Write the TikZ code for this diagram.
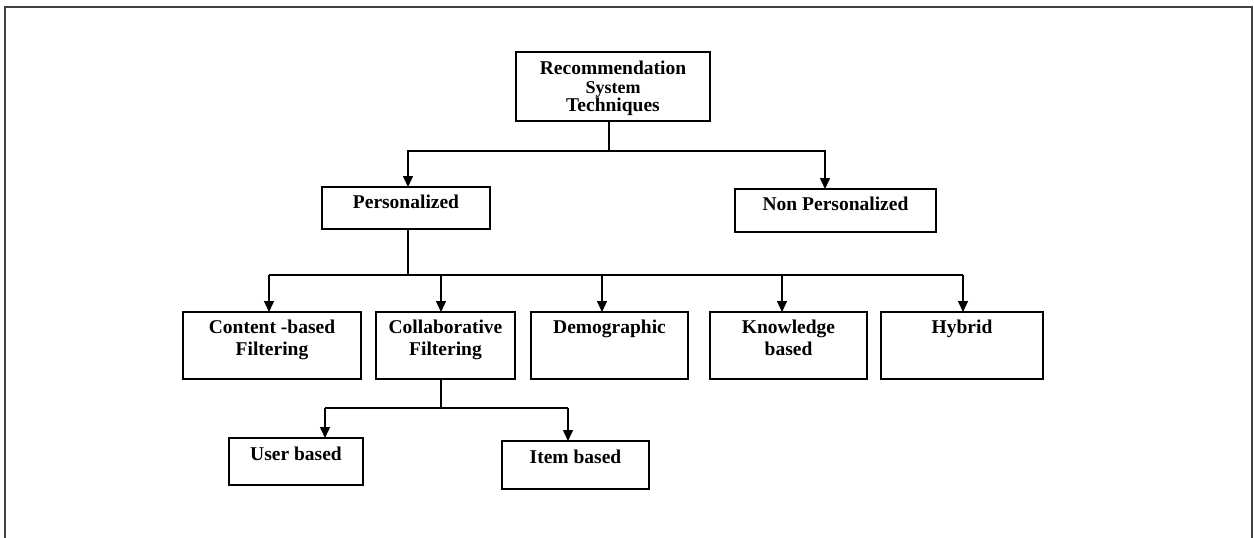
\documentclass[tikz,border=0pt]{standalone}
\usepackage{fontspec}
\setmainfont{Liberation Serif}
\usetikzlibrary{arrows.meta}
\begin{document}
\begin{tikzpicture}[x=1pt,y=-1pt,
  box/.style={draw=black, line width=1.6pt, rectangle, inner sep=0pt, outer sep=0pt},
  boxtext/.style={anchor=north, inner sep=0pt, align=center,
                  font=\bfseries\fontsize{19.5}{22}\selectfont},
  link/.style={draw=black, line width=1.5pt},
  bus/.style={draw=black, line width=2.3pt},
  arr/.style={link, -{Triangle[length=11pt,width=10pt]}},
  frameline/.style={draw=black!75, line width=2pt}
]
\useasboundingbox (0,0) rectangle (1254,538);

% outer frame, open at the bottom
\draw[frameline] (5,538) -- (5,7) -- (1252,7) -- (1252,538);

% boxes
\node[box, minimum width=194pt, minimum height=69pt] (root)    at (613,86.5)  {};
\node[box, minimum width=168pt, minimum height=42pt] (pers)    at (406,208)   {};
\node[box, minimum width=201pt, minimum height=43pt] (nonp)    at (835.5,210.5) {};
\node[box, minimum width=178pt, minimum height=67pt] (content) at (272,345.5)  {};
\node[box, minimum width=139pt, minimum height=67pt] (collab)  at (445.5,345.5) {};
\node[box, minimum width=157pt, minimum height=67pt] (demo)    at (609.5,345.5) {};
\node[box, minimum width=157pt, minimum height=67pt] (know)    at (788.5,345.5) {};
\node[box, minimum width=162pt, minimum height=67pt] (hybrid)  at (962,345.5)   {};
\node[box, minimum width=134pt, minimum height=47pt] (user)    at (296,461.5)   {};
\node[box, minimum width=147pt, minimum height=48pt] (item)    at (575.5,465)   {};

% texts, set near the top of each box
\node[boxtext, font=\bfseries\fontsize{19.5}{18.5}\selectfont] (t-root) at ([yshift=-9pt]root.north)
  {Recommendation\\\fontsize{18}{18.5}\selectfont System\\\fontsize{19.5}{18.5}\selectfont Techniques};
\node[boxtext] (t-pers)    at ([yshift=-8pt]pers.north)    {Personalized};
\node[boxtext] (t-nonp)    at ([yshift=-8pt]nonp.north)    {Non Personalized};
\node[boxtext] (t-content) at ([yshift=-8pt]content.north) {Content -based\\Filtering};
\node[boxtext] (t-collab)  at ([yshift=-8pt]collab.north)  {Collaborative\\Filtering};
\node[boxtext] (t-demo)    at ([yshift=-8pt]demo.north)    {Demographic};
\node[boxtext] (t-know)    at ([yshift=-8pt]know.north)    {Knowledge\\based};
\node[boxtext] (t-hybrid)  at ([yshift=-8pt]hybrid.north)  {Hybrid};
\node[boxtext] (t-user)    at ([yshift=-9pt]user.north)    {User based};
\node[boxtext] (t-item)    at ([yshift=-9pt]item.north)    {Item based};

% first level
\coordinate (j1) at (609,151);
\draw[link] ([xshift=-4pt]root.south) -- (j1);
\draw[arr] (j1) -| ([xshift=2pt]pers.north);
\draw[arr] (j1) -| ([xshift=-10.5pt]nonp.north);

% second level
\coordinate (j2) at (408,275);
\draw[link] ([xshift=2pt]pers.south) -- (j2);
\draw[bus] ([xshift=-3pt]content.north |- j2) -- ([xshift=1pt]hybrid.north |- j2);
\draw[arr] ([xshift=-3pt]content.north |- j2) -- ([xshift=-3pt]content.north);
\draw[arr] ([xshift=-4.5pt]collab.north |- j2) -- ([xshift=-4.5pt]collab.north);
\draw[arr] ([xshift=-7.5pt]demo.north |- j2) -- ([xshift=-7.5pt]demo.north);
\draw[arr] ([xshift=-6.5pt]know.north |- j2) -- ([xshift=-6.5pt]know.north);
\draw[arr] ([xshift=1pt]hybrid.north |- j2) -- ([xshift=1pt]hybrid.north);

% third level
\coordinate (j3) at (441,408);
\draw[link] ([xshift=-4.5pt]collab.south) -- (j3);
\draw[bus] ([xshift=29pt]user.north |- j3) -- ([xshift=-7.5pt]item.north |- j3);
\draw[arr] ([xshift=29pt]user.north |- j3) -- ([xshift=29pt]user.north);
\draw[arr] ([xshift=-7.5pt]item.north |- j3) -- ([xshift=-7.5pt]item.north);
\end{tikzpicture}
\end{document}
